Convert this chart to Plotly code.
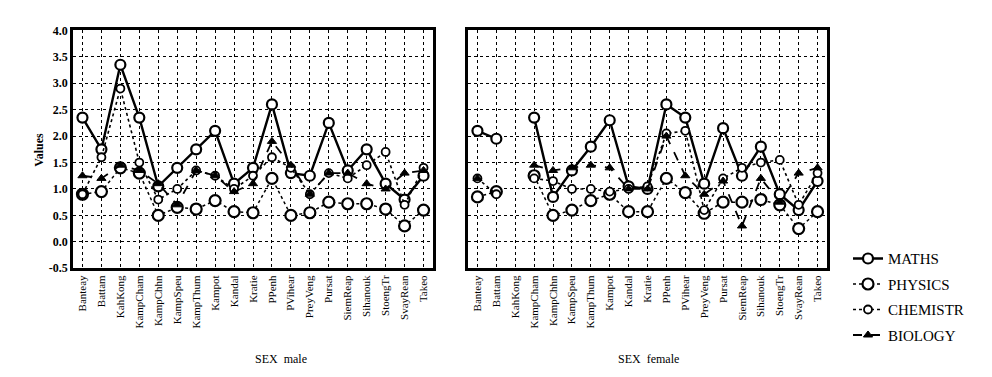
import plotly.graph_objects as go
from plotly.subplots import make_subplots

regions = ["Banteay", "Battam", "KahKong", "KampCham", "KampChhn", "KampSpeu",
           "KampThum", "Kampot", "Kandal", "Kratie", "PPenh", "PVihear",
           "PreyVeng", "Pursat", "SiemReap", "Sihanouk", "StoengTr",
           "SvayRean", "Takeo"]

maths_male = [2.35, 1.75, 3.35, 2.35, 1.05, 1.4, 1.75, 2.1, 1.1, 1.4, 2.6, 1.3,
              1.25, 2.25, 1.35, 1.75, 1.1, 0.8, 1.25]
physics_male = [0.9, 0.95, 1.4, 1.3, 0.5, 0.65, 0.62, 0.78, 0.57, 0.55, 1.2, 0.5,
                0.55, 0.75, 0.72, 0.72, 0.62, 0.3, 0.6]
chem_male = [0.9, 1.6, 2.9, 1.5, 0.8, 1.0, 1.35, 1.25, 1.0, 1.25, 1.6, 1.4,
             0.9, 1.3, 1.2, 1.45, 1.7, 0.7, 1.4]
bio_male = [1.25, 1.2, 1.45, 1.35, 1.1, 0.7, 1.35, 1.25, 0.95, 1.1, 1.9, 1.45,
            0.9, 1.3, 1.3, 1.1, 1.0, 1.3, 1.35]

maths_female = [2.1, 1.95, None, 2.35, 0.85, 1.35, 1.8, 2.3, 1.05, 1.0, 2.6, 2.35,
                1.1, 2.15, 1.25, 1.8, 0.9, 0.6, 1.15]
physics_female = [0.85, 0.95, None, 1.25, 0.5, 0.6, 0.78, 0.9, 0.57, 0.57, 1.2, 0.93,
                  0.54, 0.75, 0.75, 0.8, 0.7, 0.25, 0.57]
chem_female = [1.2, 0.9, None, 1.2, 1.15, 1.0, 1.0, 0.95, 1.0, 1.05, 2.05, 2.1,
               0.6, 1.2, 1.4, 1.5, 1.55, 0.7, 1.3]
bio_female = [1.2, None, None, 1.45, 1.35, 1.4, 1.45, 1.4, 1.0, 1.0, 2.0, 1.25,
              0.9, 1.15, 0.3, 1.2, 0.75, 1.3, 1.4]

y_ticks = [-0.5, 0.0, 0.5, 1.0, 1.5, 2.0, 2.5, 3.0, 3.5, 4.0]
y_ticktext = ["-0.5", "0.0", "0.5", "1.0", "1.5", "2.0", "2.5", "3.0", "3.5", "4.0"]

series_names = ["MATHS", "PHYSICS", "CHEMISTR", "BIOLOGY"]
styles = {
    "MATHS": dict(line=dict(color="black", width=2.4, dash="solid"),
                  marker=dict(symbol="circle", size=10, color="white",
                              line=dict(color="black", width=2.2))),
    "PHYSICS": dict(line=dict(color="black", width=1.5, dash="dot"),
                    marker=dict(symbol="circle", size=11, color="white",
                                line=dict(color="black", width=2.2))),
    "CHEMISTR": dict(line=dict(color="black", width=1.6, dash="dot"),
                     marker=dict(symbol="circle", size=8, color="white",
                                 line=dict(color="black", width=1.8))),
    "BIOLOGY": dict(line=dict(color="black", width=1.8, dash="dash"),
                    marker=dict(symbol="triangle-up", size=8, color="black",
                                line=dict(color="black", width=1))),
}

male = [maths_male, physics_male, chem_male, bio_male]
female = [maths_female, physics_female, chem_female, bio_female]

fig = make_subplots(rows=1, cols=2)

for col, data in ((1, male), (2, female)):
    for name, vals in zip(series_names, data):
        fig.add_trace(go.Scatter(
            x=regions, y=vals, name=name, mode="lines+markers",
            legendgroup=name, showlegend=(col == 1), connectgaps=False,
            **styles[name]), row=1, col=col)

font_fam = "Liberation Serif, DejaVu Serif, serif"
axis_common = dict(showline=True, mirror=True, linewidth=2.5, linecolor="black",
                   showgrid=True, gridcolor="black", gridwidth=1.2, griddash="dot",
                   zeroline=False, ticks="")

fig.update_xaxes(type="category", categoryorder="array", categoryarray=regions,
                 range=[-0.5, 18.5], tickangle=-90,
                 tickfont=dict(family=font_fam, size=11, color="black"), **axis_common)
fig.update_yaxes(range=[-0.5, 4.0], tickvals=y_ticks, ticktext=y_ticktext,
                 tickfont=dict(family=font_fam, size=12, color="black", weight="bold"),
                 **axis_common)
fig.update_yaxes(showticklabels=False, row=1, col=2)

W, H = 992, 377
fig.update_layout(
    width=W, height=H,
    margin=dict(l=0, r=0, t=0, b=0),
    paper_bgcolor="white", plot_bgcolor="white",
    xaxis=dict(domain=[65 / W, 425 / W]),
    xaxis2=dict(domain=[460 / W, 819 / W]),
    yaxis=dict(domain=[1 - 263 / H, 1 - 16 / H]),
    yaxis2=dict(domain=[1 - 263 / H, 1 - 16 / H]),
    legend=dict(x=840 / W, y=1 - 236 / H, xanchor="left", yanchor="top",
                font=dict(family=font_fam, size=15, color="black"),
                tracegroupgap=3, bgcolor="rgba(0,0,0,0)", itemwidth=30),
    annotations=[
        dict(text="Values", x=22 / W, y=1 - 140 / H, xref="paper", yref="paper",
             textangle=-90, showarrow=False,
             font=dict(family=font_fam, size=12, color="black", weight="bold")),
        dict(text="SEX  male", x=245 / W, y=1 - 367 / H, xref="paper", yref="paper",
             showarrow=False, font=dict(family=font_fam, size=12, color="black")),
        dict(text="SEX  female", x=640 / W, y=1 - 367 / H, xref="paper", yref="paper",
             showarrow=False, font=dict(family=font_fam, size=12, color="black")),
    ],
)

fig.write_html("out.html")
